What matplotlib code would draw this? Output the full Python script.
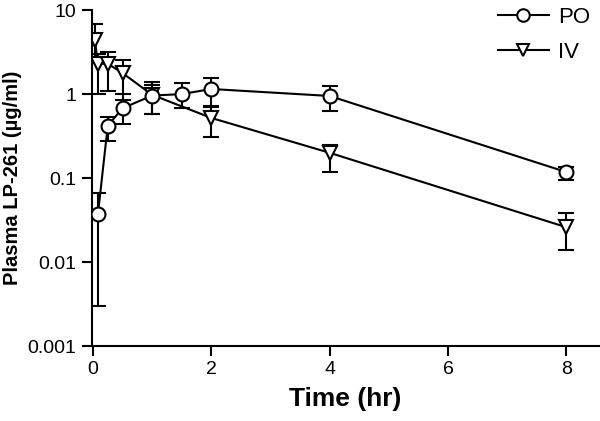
import numpy as np
import matplotlib.pyplot as plt
from matplotlib.lines import Line2D

plt.rcParams['font.family'] = ['Liberation Sans', 'DejaVu Sans']

# PO (oral)
t_po = [0.083, 0.25, 0.5, 1.0, 1.5, 2.0, 4.0, 8.0]
c_po = [0.037, 0.42, 0.68, 0.96, 1.0, 1.15, 0.95, 0.118]
po_lo = [0.003, 0.28, 0.44, 0.58, 0.68, 0.70, 0.63, 0.095]
po_hi = [0.066, 0.53, 1.0, 1.38, 1.35, 1.55, 1.25, 0.135]

# IV
t_iv = [0.033, 0.083, 0.25, 0.5, 1.0, 2.0, 4.0, 8.0]
c_iv = [4.4, 2.3, 2.3, 1.78, 0.98, 0.52, 0.20, 0.026]
iv_lo = [2.5, 1.0, 1.1, 0.85, 0.58, 0.31, 0.118, 0.014]
iv_hi = [6.8, 3.0, 3.2, 2.55, 1.3, 0.72, 0.25, 0.038]

fig = plt.figure(figsize=(6, 4.21), dpi=100)
ax = fig.add_axes([0.153, 0.178, 0.845, 0.798])

po_err = [np.array(c_po) - np.array(po_lo), np.array(po_hi) - np.array(c_po)]
iv_err = [np.array(c_iv) - np.array(iv_lo), np.array(iv_hi) - np.array(c_iv)]

style = dict(color='black', lw=1.5, mfc='white', mec='black', mew=1.5,
             capsize=6, elinewidth=1.5, capthick=1.5)
ax.errorbar(t_po, c_po, yerr=po_err, marker='o', ms=10, zorder=3, **style)
ax.errorbar(t_iv, c_iv, yerr=iv_err, marker='v', ms=10, zorder=2, **style)

ax.set_yscale('log')
ax.set_ylim(0.001, 10)
ax.set_xlim(-0.02, 8.55)
ax.set_yticks([0.001, 0.01, 0.1, 1, 10])
ax.set_yticklabels(['0.001', '0.01', '0.1', '1', '10'])
ax.minorticks_off()
ax.set_xticks([0, 2, 4, 6, 8])

for s in ['top', 'right']:
    ax.spines[s].set_visible(False)
for s in ['left', 'bottom']:
    ax.spines[s].set_linewidth(1.5)
ax.tick_params(width=1.5, length=7, labelsize=14, pad=4)

ax.set_xlabel('Time (hr)', fontsize=19, fontweight='bold', labelpad=6)
ax.set_ylabel('Plasma LP-261 (µg/ml)', fontsize=14.5, fontweight='bold')
ax.yaxis.set_label_coords(-0.138, 0.5)

handles = [
    Line2D([], [], color='black', lw=1.5, marker='o', ms=9, mfc='white', mew=1.5),
    Line2D([], [], color='black', lw=1.5, marker='v', ms=9, mfc='white', mew=1.5),
]
ax.legend(handles, ['PO', 'IV'], loc='upper right', frameon=False, fontsize=16,
          handlelength=2.3, handletextpad=0.4, borderaxespad=0.0,
          bbox_to_anchor=(1.0, 1.035), labelspacing=0.6)

fig.savefig('out.png', dpi=100)
